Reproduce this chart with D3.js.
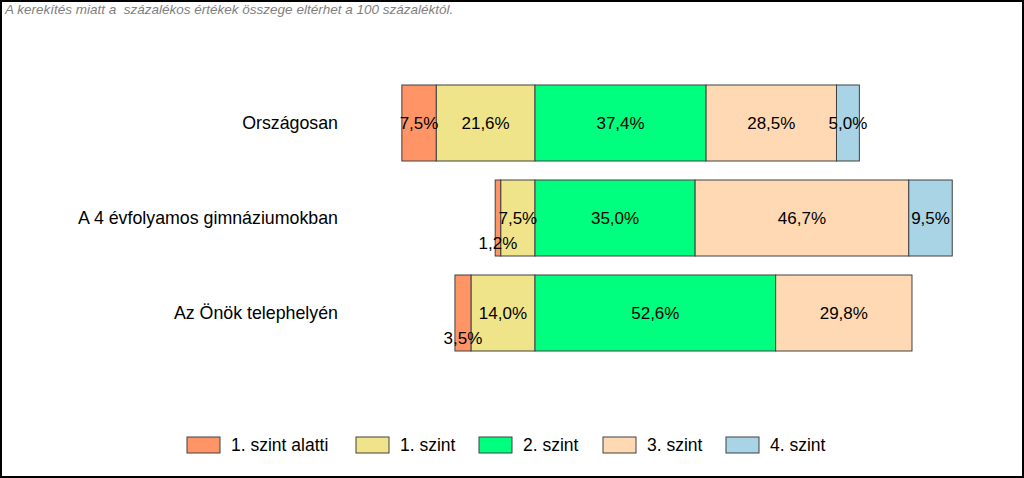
<!DOCTYPE html>
<html><head><meta charset="utf-8">
<script src="https://cdn.jsdelivr.net/npm/d3@7"></script>
<style>body{margin:0;background:#fff}svg{display:block}text{font-family:"Liberation Sans",Arial,sans-serif}</style>
</head><body>
<script>
const categories = ["Országosan", "A 4 évfolyamos gimnáziumokban", "Az Önök telephelyén"];
const seriesNames = ["1. szint alatti", "1. szint", "2. szint", "3. szint", "4. szint"];
const belowLevel1 = [7.5, 1.2, 3.5];
const level1 = [21.6, 7.5, 14.0];
const level2 = [37.4, 35.0, 52.6];
const level3 = [28.5, 46.7, 29.8];
const level4 = [5.0, 9.5, 0];
const colors = ["#FF9466", "#F0E48A", "#00FF7F", "#FFD9B3", "#A8D4E6"];
const note = "A kerekítés miatt a  százalékos értékek összege eltérhet a 100 százaléktól.";

const W = 1024, H = 478;
const svg = d3.select("body").append("svg").attr("width", W).attr("height", H);
svg.append("rect").attr("x",1).attr("y",1).attr("width",W-2).attr("height",H-2)
  .attr("fill","#fff").attr("stroke","#000").attr("stroke-width",2);
svg.append("text").attr("x",5).attr("y",14).attr("font-size",13.5).attr("font-style","italic")
  .attr("fill","#7f7f7f").style("white-space","pre").text(note);

const x = d3.scaleLinear().domain([-30, 100]).range([397.75, 992.5]);
const y = d3.scaleBand().domain(categories).range([75.5, 360.5]).paddingInner(0.2).paddingOuter(0.1);

const series = [belowLevel1, level1, level2, level3, level4];
const segs = [];
categories.forEach((c, i) => {
  let neg = 0;
  for (let s = 1; s >= 0; s--) {
    const v = series[s][i];
    segs.push({c, s, v, x0: neg - v, x1: neg});
    neg -= v;
  }
  let pos = 0;
  for (let s = 2; s < 5; s++) {
    const v = series[s][i];
    segs.push({c, s, v, x0: pos, x1: pos + v});
    pos += v;
  }
});
const drawn = segs.filter(d => d.v > 0);
svg.append("g").selectAll("rect").data(drawn).join("rect")
  .attr("x", d => x(d.x0)).attr("y", d => y(d.c))
  .attr("width", d => x(d.x1) - x(d.x0)).attr("height", y.bandwidth())
  .attr("fill", d => colors[d.s]).attr("stroke", "#404040").attr("stroke-width", 1);
svg.append("g").selectAll("text").data(drawn).join("text")
  .attr("x", d => (x(d.x0) + x(d.x1)) / 2)
  .attr("y", d => y(d.c) + y.bandwidth() / 2 + 6 + (d.v < 4 ? 25 : 0))
  .attr("text-anchor", "middle").attr("font-size", 17).attr("fill", "#000")
  .text(d => d.v.toFixed(1).replace(".", ",") + "%");

svg.append("g").selectAll("text").data(categories).join("text")
  .attr("x", 338).attr("y", d => y(d) + y.bandwidth() / 2 + 6)
  .attr("text-anchor", "end").attr("font-size", 17.8).attr("fill", "#000").text(d => d);

const legX = [187, 356, 479, 603, 726];
const lg = svg.append("g").selectAll("g").data(seriesNames).join("g")
  .attr("transform", (d, i) => `translate(${legX[i]},437)`);
lg.append("rect").attr("width", 33).attr("height", 16)
  .attr("fill", (d, i) => colors[i]).attr("stroke", "#404040").attr("stroke-width", 1);
lg.append("text").attr("x", 44).attr("y", 14).attr("font-size", 17.5).text(d => d);
</script>
</body></html>
